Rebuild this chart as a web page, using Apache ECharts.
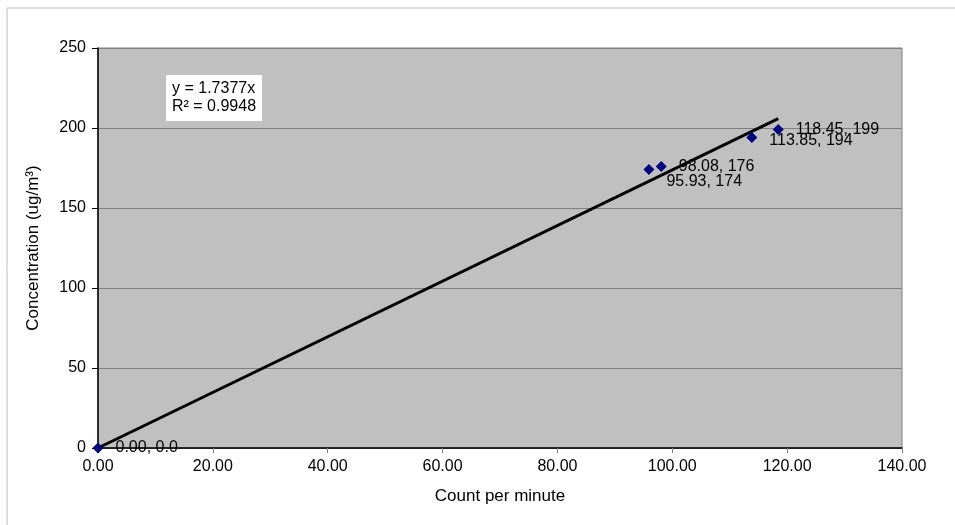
<!DOCTYPE html>
<html><head><meta charset="utf-8">
<script src="https://cdn.jsdelivr.net/npm/echarts@6/dist/echarts.min.js"></script>
<style>html,body{margin:0;padding:0;background:#fff}#c{width:955px;height:525px}</style>
</head><body><div id="c"></div>
<script>
const xValues = [0.00, 95.93, 98.08, 113.85, 118.45];
const yValues = [0, 174, 176, 194, 199];
const pointLabels = ['0.00, 0.0', '95.93, 174', '98.08, 176', '113.85, 194', '118.45, 199'];
const labelShiftY = [0, 12, 0, 3, 0];
const slope = 1.7377;
const trendXRange = [0, 118.45];
const equationLines = ['y = 1.7377x', 'R\u00b2 = 0.9948'];
const xTicks = {min: 0, max: 140, interval: 20};
const yTicks = {min: 0, max: 250, interval: 50};

const font = "'Liberation Sans', Arial, sans-serif";
const chart = echarts.init(document.getElementById('c'));
const pts = xValues.map((x, i) => ({
  value: [x, yValues[i]],
  label: {formatter: pointLabels[i], offset: [0, labelShiftY[i]]}
}));
chart.setOption({
  animation: false,
  backgroundColor: '#fff',
  textStyle: {fontFamily: font},
  grid: {left: 98, right: 53, top: 48, bottom: 77, show: true, backgroundColor: '#C0C0C0', borderColor: '#808080', borderWidth: 1},
  xAxis: {
    type: 'value', min: xTicks.min, max: xTicks.max, interval: xTicks.interval,
    name: 'Count per minute', nameLocation: 'middle', nameGap: 40,
    nameTextStyle: {fontSize: 17, color: '#000', fontFamily: font},
    axisLine: {show: true, onZero: false, lineStyle: {color: '#000', width: 1.5}},
    axisTick: {show: true, length: 5, lineStyle: {color: '#808080'}},
    axisLabel: {fontSize: 16, color: '#000', margin: 11, formatter: v => v.toFixed(2), fontFamily: font},
    splitLine: {show: false}
  },
  yAxis: {
    type: 'value', min: yTicks.min, max: yTicks.max, interval: yTicks.interval,
    name: 'Concentration (ug/m\u00b3)', nameLocation: 'middle', nameGap: 56,
    nameTextStyle: {fontSize: 17, color: '#000', fontFamily: font},
    axisLine: {show: true, onZero: false, lineStyle: {color: '#000', width: 1.5}},
    axisTick: {show: true, length: 6, lineStyle: {color: '#000'}},
    axisLabel: {fontSize: 16, color: '#000', margin: 12, fontFamily: font},
    splitLine: {show: true, lineStyle: {color: '#808080', width: 1}}
  },
  graphic: [{
    type: 'text', left: 166, top: 75, z: 100,
    style: {
      text: equationLines.join('\n'), font: "16px " + font, fill: '#000',
      backgroundColor: '#fff', padding: [5, 6, 5, 6], lineHeight: 18
    }
  }, {
    type: 'line', shape: {x1: 7, y1: 8, x2: 955, y2: 8}, style: {stroke: '#BDBDBD', lineWidth: 1}
  }, {
    type: 'line', shape: {x1: 7, y1: 8, x2: 7, y2: 525}, style: {stroke: '#BDBDBD', lineWidth: 1}
  }],
  series: [{
    type: 'line',
    data: trendXRange.map(x => [x, slope * x]),
    symbol: 'none', lineStyle: {color: '#000', width: 3, opacity: 1}, z: 3, silent: true
  }, {
    type: 'scatter',
    data: pts,
    symbol: 'diamond', symbolSize: 11,
    itemStyle: {color: '#000080', opacity: 1},
    label: {show: true, position: 'right', distance: 12, fontSize: 16, color: '#000', opacity: 1, fontFamily: font},
    z: 4
  }]
});
</script></body></html>
